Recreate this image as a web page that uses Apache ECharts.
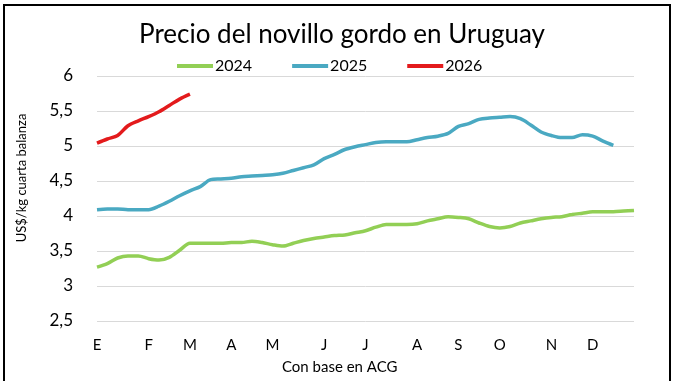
<!DOCTYPE html>
<html>
<head>
<meta charset="utf-8">
<script src="https://cdn.jsdelivr.net/npm/echarts@6/dist/echarts.min.js"></script>
<style>
html,body{margin:0;padding:0;background:#fff;}
#chart{width:678px;height:381px;}
</style>
</head>
<body>
<div id="chart"></div>
<script>
const titleText = 'Precio del novillo gordo en Uruguay';
const yAxisTitle = 'US$/kg cuarta balanza';
const xAxisTitle = 'Con base en ACG';
const seriesNames = ['2024', '2025', '2026'];
const monthLabels = ['E','F','M','A','M','J','J','A','S','O','N','D'];
const monthStartWeeks = [0,5,9,13,17,22,26,31,35,39,44,48];
const weekCount = 53;

const values2024 = [3.27,3.32,3.40,3.43,3.43,3.39,3.37,3.41,3.51,3.61,3.61,3.61,3.61,3.62,3.62,3.64,3.62,3.59,3.57,3.61,3.65,3.68,3.70,3.72,3.73,3.76,3.79,3.84,3.88,3.88,3.88,3.89,3.93,3.96,3.99,3.98,3.96,3.90,3.85,3.83,3.85,3.90,3.93,3.96,3.98,3.99,4.02,4.04,4.06,4.06,4.06,4.07,4.08];
const values2025 = [4.09,4.10,4.10,4.09,4.09,4.09,4.14,4.21,4.29,4.36,4.42,4.52,4.53,4.54,4.56,4.57,4.58,4.59,4.61,4.65,4.69,4.73,4.82,4.88,4.95,4.99,5.02,5.05,5.06,5.06,5.06,5.09,5.12,5.14,5.18,5.28,5.32,5.38,5.40,5.41,5.42,5.39,5.30,5.20,5.15,5.12,5.12,5.16,5.14,5.07,5.01];
const values2026 = [5.04,5.10,5.15,5.29,5.36,5.42,5.49,5.58,5.67,5.74];

const yMin = 2.5, yMax = 6, yStep = 0.5;

const categories = [];
for (let i = 0; i < weekCount; i++) {
  const k = monthStartWeeks.indexOf(i);
  categories.push(k >= 0 ? monthLabels[k] : '');
}

const FONT = 'Lato, "Open Sans", sans-serif';
const colors = ['#92cf55', '#4aa9c2', '#e31a1c'];

const chart = echarts.init(document.getElementById('chart'), null, {renderer: 'canvas'});
chart.setOption({
  animation: false,
  backgroundColor: '#fff',
  title: {
    text: titleText,
    left: 337, top: 17, textAlign: 'center',
    textStyle: {fontFamily: FONT, fontSize: 26, fontWeight: 'normal', color: '#000'}
  },
  legend: {
    data: seriesNames,
    left: 172, top: 53,
    itemWidth: 36, itemHeight: 4, itemGap: 40,
    icon: 'rect',
    textStyle: {fontFamily: FONT, fontSize: 16, color: '#000', padding: [0,0,0,-3]}
  },
  grid: {left: 97, right: 44, top: 76, bottom: 60},
  xAxis: {
    type: 'category',
    data: categories,
    boundaryGap: false,
    axisLine: {show: false},
    axisTick: {show: false},
    axisLabel: {interval: 0, margin: 17, fontFamily: FONT, fontSize: 15, color: '#000'},
    splitLine: {show: false}
  },
  yAxis: {
    type: 'value',
    min: yMin, max: yMax, interval: yStep,
    axisLine: {show: false},
    axisTick: {show: false},
    axisLabel: {
      margin: 24, fontFamily: FONT, fontSize: 17, color: '#000',
      formatter: v => String(v).replace('.', ',')
    },
    splitLine: {lineStyle: {color: '#d9d9d9', width: 1}}
  },
  graphic: [
    {type: 'text', left: 282, top: 360, style: {text: xAxisTitle, font: '15px ' + FONT, fill: '#000'}},
    {type: 'text', x: 15, y: 178, rotation: Math.PI/2,
     style: {text: yAxisTitle, font: '13px ' + FONT, fill: '#000', align: 'center', verticalAlign: 'top'}},
    {type: 'rect', shape: {x: 4, y: 5, width: 666, height: 384},
     style: {fill: 'none', stroke: '#000', lineWidth: 2}, silent: true}
  ],
  series: [
    {name: seriesNames[0], type: 'line', data: values2024, smooth: 0.3, showSymbol: false,
     lineStyle: {width: 3.5, color: colors[0]}, itemStyle: {color: colors[0]}},
    {name: seriesNames[1], type: 'line', data: values2025, smooth: 0.3, showSymbol: false,
     lineStyle: {width: 3.5, color: colors[1]}, itemStyle: {color: colors[1]}},
    {name: seriesNames[2], type: 'line', data: values2026, smooth: 0.3, showSymbol: false,
     lineStyle: {width: 3.5, color: colors[2]}, itemStyle: {color: colors[2]}}
  ]
});
</script>
</body>
</html>
